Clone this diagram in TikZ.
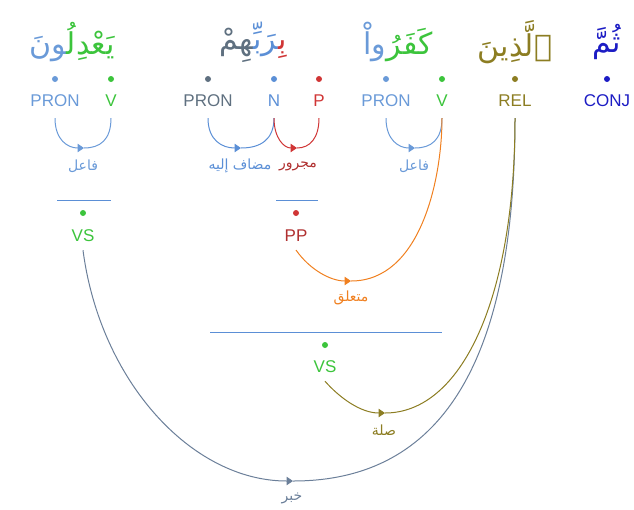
\documentclass[tikz,border=0pt]{standalone}
\usepackage{fontspec}
\setmainfont{Liberation Sans}
\newfontfamily\arabicfont[Script=Arabic]{DejaVu Sans}
\TeXXeTstate=1
\usetikzlibrary{arrows.meta}

\definecolor{conjc}{HTML}{1C1CC4}
\definecolor{relc}{HTML}{8C7D22}
\definecolor{verbc}{HTML}{3CC43C}
\definecolor{pronc}{HTML}{6A9AD8}
\definecolor{nounc}{HTML}{5B8FD6}
\definecolor{prepc}{HTML}{D03535}
\definecolor{ppc}{HTML}{B03030}
\definecolor{grayc}{HTML}{5F7080}
\definecolor{linec}{HTML}{5B8FD6}
\definecolor{orangec}{HTML}{F08020}
\definecolor{slatec}{HTML}{6B7F99}

% zero-width joiner, keeps letters joined across colour changes
\newcommand{\zwj}{^^^^200d}

\begin{document}
\begin{tikzpicture}[x=1pt,y=-1pt,
  word/.style={font=\arabicfont\fontsize{30}{30}\selectfont, inner sep=0pt},
  tagtext/.style={font=\fontsize{17}{17}\selectfont, inner sep=0pt},
  dot/.style={circle, fill, inner sep=0pt, minimum size=6pt},
  lbl/.style={font=\arabicfont\fontsize{14}{14}\selectfont, inner sep=0pt},
  dep/.style={line width=1pt},
  tip/.style={-{Triangle[length=6.5pt,width=8.5pt]}},
  bar/.style={line width=1pt, draw=linec}]
\useasboundingbox (0,0) rectangle (634,509);

% words; coloured segments are set one by one from left to right
\node[word, text=conjc] (w1) at (607,42) {ثُمَّ};
\node[word, text=relc] (w2) at (515,42) {ٱلَّذِينَ};
\node[word] (w3) at (398,42) {\textcolor{pronc}{واْ}\textcolor{verbc}{كَفَرُ}};
\node[word] (w4) at (253,42) {\textcolor{grayc}{\zwj هِمْ}\textcolor{nounc}{\zwj رَبِّ\zwj}\textcolor{prepc}{بِ\zwj}};
\node[word] (w5) at (72,42) {\textcolor{pronc}{\zwj ونَ}\textcolor{verbc}{يَعْدِلُ\zwj}};

% part-of-speech dots and tags
\foreach \n/\x/\c/\t in {conj/607/conjc/CONJ, rel/515/relc/REL, v2/442/verbc/V,
    pr3/386/pronc/PRON, p/319/prepc/P, n/274/nounc/N, pr2/208/grayc/PRON,
    v1/111/verbc/V, pr1/55/pronc/PRON}{
  \node[dot, fill=\c] (d\n) at (\x,79) {};
  \node[tagtext, text=\c] (\n) at (\x,101) {\t};
}

% arc bottoms
\coordinate (m1) at (84,148);
\coordinate (m2) at (241,148);
\coordinate (m3) at (297,148);
\coordinate (m4) at (415,148);
\coordinate (m5) at (351,281);
\coordinate (m6) at (385,413);
\coordinate (m7) at (293,481);

% local arcs
\draw[dep, pronc, tip] ([yshift=-11pt]pr1.south) .. controls +(0,22) and +(-16,0) .. (m1);
\draw[dep, pronc] (m1) .. controls +(16,0) and +(0,22) .. ([yshift=-11pt]v1.south);
\draw[dep, nounc, tip] ([yshift=-11pt]pr2.south) .. controls +(0,22) and +(-19,0) .. (m2);
\draw[dep, nounc] (m2) .. controls +(19,0) and +(0,22) .. ([yshift=-11pt]n.south);
\draw[dep, prepc, tip] ([yshift=-11pt]n.south) .. controls +(0,20) and +(-13,0) .. (m3);
\draw[dep, prepc] (m3) .. controls +(13,0) and +(0,20) .. ([yshift=-11pt]p.south);
\draw[dep, pronc, tip] ([yshift=-11pt]pr3.south) .. controls +(0,22) and +(-16,0) .. (m4);
\draw[dep, pronc] (m4) .. controls +(16,0) and +(0,22) .. ([yshift=-11pt]v2.south);

\node[lbl, text=pronc] (l1) at (83,166) {\beginR فاعل\endR};
\node[lbl, text=nounc] (l2) at (240,166) {\beginR مضاف إليه\endR};
\node[lbl, text=ppc] (l3) at (298,166) {\beginR مجرور\endR};
\node[lbl, text=pronc] (l4) at (414,166) {\beginR فاعل\endR};

% phrase brackets
\coordinate (b1a) at (57,200); \coordinate (b1b) at (111,200);
\coordinate (b2a) at (276,200); \coordinate (b2b) at (318,200);
\coordinate (b3a) at (210,332); \coordinate (b3b) at (442,332);
\draw[bar] (b1a) -- (b1b);
\draw[bar] (b2a) -- (b2b);
\draw[bar] (b3a) -- (b3b);

\node[dot, fill=verbc] (dvs1) at (83,213) {};
\node[tagtext, text=verbc] (vs1) at (83,236) {VS};
\node[dot, fill=prepc] (dpp) at (296,213) {};
\node[tagtext, text=ppc] (pp) at (296,236) {PP};
\node[dot, fill=verbc] (dvs2) at (325,345) {};
\node[tagtext, text=verbc] (vs2) at (325,367) {VS};

% phrase-level arcs
\draw[dep, orangec, tip] ([yshift=-8pt]pp.south) .. controls +(14,20) and +(-20,0) .. (m5);
\draw[dep, orangec] (m5) .. controls +(70,0) and +(0,60) .. ([yshift=-11pt]v2.south);
\node[lbl, text=orangec] (l5) at (351,298) {\beginR متعلق\endR};

\draw[dep, slatec, tip] ([yshift=-8pt]vs1.south) .. controls +(17,130) and +(-102,0) .. (m7);
\draw[dep, slatec] (m7) .. controls +(137,0) and +(0,262) .. ([yshift=-11pt]rel.south);
\node[lbl, text=slatec] (l7) at (292,498) {\beginR خبر\endR};

\draw[dep, relc, tip] ([yshift=-8pt]vs2.south) .. controls +(15,17) and +(-24,0) .. (m6);
\draw[dep, relc] (m6) .. controls +(76,0) and +(0,182) .. ([yshift=-11pt]rel.south);
\node[lbl, text=relc] (l6) at (384,430) {\beginR صلة\endR};
\end{tikzpicture}
\end{document}
